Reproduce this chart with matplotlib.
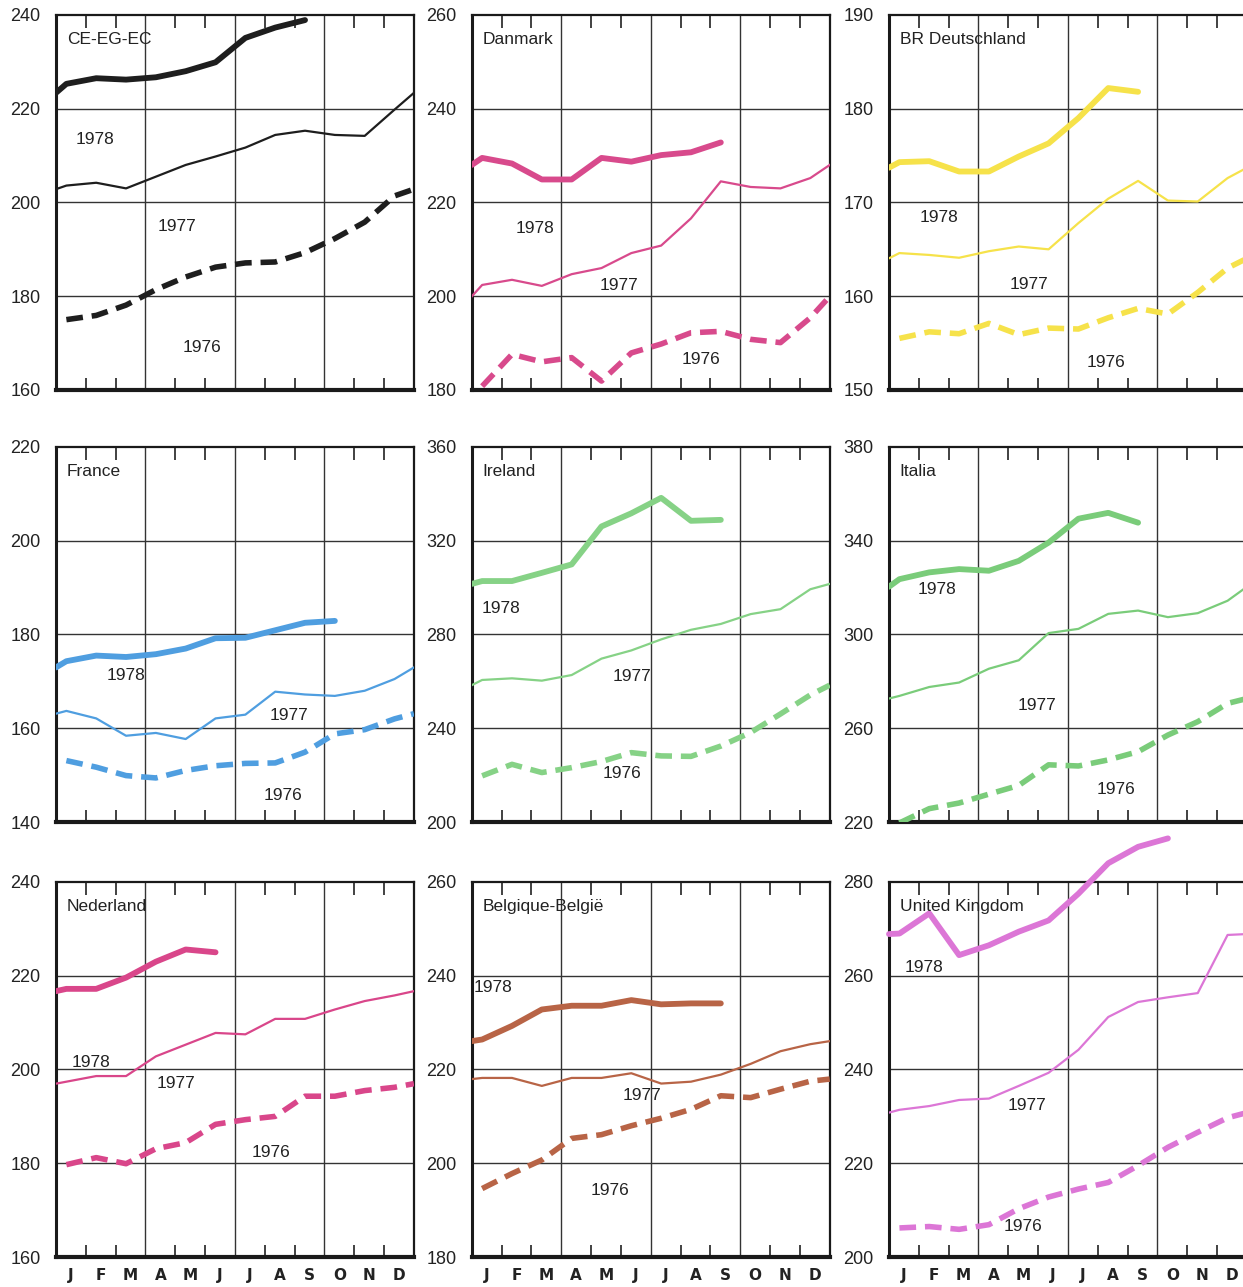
import numpy as np
import matplotlib.pyplot as plt

plt.rcParams['font.family'] = ['Liberation Sans', 'DejaVu Sans']

months = ['J', 'F', 'M', 'A', 'M', 'J', 'J', 'A', 'S', 'O', 'N', 'D']

# monthly index values (1976, 1977, 1978 so far)
ce_1976 = [175.0, 175.9, 178.1, 181.4, 184.1, 186.2, 187.1, 187.3, 189.3, 192.3, 195.8, 201.4]
ce_1977 = [203.6, 204.2, 203.0, 205.5, 208.0, 209.8, 211.7, 214.4, 215.3, 214.4, 214.2, 219.8]
ce_1978 = [225.3, 226.5, 226.2, 226.7, 228.0, 229.9, 235.1, 237.3, 238.9]

dk_1976 = [180.8, 187.6, 186.0, 186.9, 181.9, 187.9, 189.8, 192.2, 192.5, 190.8, 190.1, 195.4]
dk_1977 = [202.4, 203.5, 202.2, 204.7, 206.0, 209.2, 210.8, 216.6, 224.5, 223.3, 223.0, 225.2]
dk_1978 = [229.5, 228.3, 224.9, 224.9, 229.5, 228.7, 230.1, 230.7, 232.8]

de_1976 = [155.5, 156.2, 156.0, 157.1, 155.9, 156.6, 156.5, 157.7, 158.7, 158.1, 160.4, 163.0]
de_1977 = [164.6, 164.4, 164.1, 164.8, 165.3, 165.0, 167.8, 170.4, 172.3, 170.2, 170.1, 172.6]
de_1978 = [174.3, 174.4, 173.3, 173.3, 174.9, 176.3, 179.0, 182.2, 181.8]

fr_1976 = [153.1, 151.7, 149.9, 149.4, 151.0, 152.0, 152.5, 152.6, 154.9, 158.8, 159.7, 162.0]
fr_1977 = [163.7, 162.1, 158.4, 159.0, 157.7, 162.1, 162.9, 167.8, 167.2, 166.9, 168.0, 170.5]
fr_1978 = [174.3, 175.5, 175.2, 175.8, 177.0, 179.2, 179.3, 180.9, 182.5, 182.9]

ie_1976 = [219.7, 224.6, 221.1, 223.2, 225.8, 229.6, 228.2, 228.0, 232.4, 238.2, 246.1, 254.2]
ie_1977 = [260.6, 261.3, 260.3, 262.7, 269.7, 273.2, 277.9, 282.0, 284.5, 288.7, 290.8, 299.3]
ie_1978 = [302.8, 302.8, 306.3, 309.9, 326.1, 331.7, 338.3, 328.5, 328.9]

it_1976 = [219.6, 225.7, 228.1, 231.9, 235.6, 244.4, 243.9, 246.5, 250.0, 257.1, 262.8, 270.6]
it_1977 = [273.8, 277.6, 279.5, 285.4, 289.0, 300.6, 302.4, 308.8, 310.2, 307.4, 309.1, 314.4]
it_1978 = [323.6, 326.5, 327.9, 327.2, 331.4, 339.2, 349.4, 351.9, 347.7]

nl_1976 = [179.7, 181.2, 179.9, 183.1, 184.4, 188.3, 189.3, 190.0, 194.3, 194.3, 195.5, 196.2]
nl_1977 = [197.4, 198.6, 198.6, 202.8, 205.3, 207.8, 207.5, 210.8, 210.8, 212.8, 214.6, 215.8]
nl_1978 = [217.2, 217.2, 219.6, 223.0, 225.6, 225.0]

be_1976 = [194.6, 197.8, 200.7, 205.3, 206.1, 208.0, 209.6, 211.5, 214.4, 214.0, 215.8, 217.5]
be_1977 = [218.2, 218.2, 216.5, 218.2, 218.2, 219.2, 217.0, 217.4, 218.9, 221.2, 223.9, 225.4]
be_1978 = [226.4, 229.3, 232.8, 233.6, 233.6, 234.8, 233.9, 234.1, 234.1]

uk_1976 = [206.2, 206.5, 205.9, 206.9, 210.3, 212.8, 214.5, 215.9, 219.5, 223.4, 226.6, 229.7]
uk_1977 = [231.4, 232.2, 233.5, 233.8, 236.5, 239.3, 244.2, 251.2, 254.4, 255.4, 256.3, 268.7]
uk_1978 = [269.0, 273.3, 264.4, 266.5, 269.4, 271.8, 277.5, 284.0, 287.5, 289.3]

# name, series, (ymin, ymax, step), colour
panels = [
    ('CE-EG-EC', (ce_1976, ce_1977, ce_1978), (160, 240, 20), '#1e1e1e'),
    ('Danmark', (dk_1976, dk_1977, dk_1978), (180, 260, 20), '#d84a8c'),
    ('BR Deutschland', (de_1976, de_1977, de_1978), (150, 190, 10), '#f6e24a'),
    ('France', (fr_1976, fr_1977, fr_1978), (140, 220, 20), '#4f9ee0'),
    ('Ireland', (ie_1976, ie_1977, ie_1978), (200, 360, 40), '#86d286'),
    ('Italia', (it_1976, it_1977, it_1978), (220, 380, 40), '#7acc7a'),
    ('Nederland', (nl_1976, nl_1977, nl_1978), (160, 240, 20), '#d9468a'),
    ('Belgique-België', (be_1976, be_1977, be_1978), (180, 260, 20), '#b86446'),
    ('United Kingdom', (uk_1976, uk_1977, uk_1978), (200, 280, 20), '#dc76d6'),
]

# year-label positions (axes fraction) for 1978, 1977, 1976
label_pos = [
    [(0.109, 0.668), (0.338, 0.436), (0.408, 0.114)],
    [(0.176, 0.431), (0.411, 0.279), (0.640, 0.082)],
    [(0.140, 0.460), (0.391, 0.282), (0.606, 0.072)],
    [(0.196, 0.391), (0.651, 0.285), (0.634, 0.072)],
    [(0.081, 0.569), (0.447, 0.388), (0.419, 0.130)],
    [(0.134, 0.620), (0.413, 0.311), (0.634, 0.088)],
    [(0.098, 0.519), (0.335, 0.463), (0.601, 0.279)],
    [(0.059, 0.718), (0.475, 0.431), (0.385, 0.178)],
    [(0.098, 0.771), (0.385, 0.404), (0.374, 0.082)],
]

month_pos = np.arange(12) + 0.35


def year_line(prev, cur, nxt):
    # a year's curve runs on to the panel edges towards the neighbouring years
    x = list(month_pos[:len(cur)])
    y = list(cur)
    if prev is not None:
        x.insert(0, 0.0)
        y.insert(0, np.interp(0.0, [month_pos[0] - 1, month_pos[0]], [prev[-1], cur[0]]))
    if nxt is not None and len(cur) == 12:
        x.append(12.0)
        y.append(np.interp(12.0, [month_pos[-1], month_pos[-1] + 1], [cur[-1], nxt[0]]))
    return x, y


fig = plt.figure(figsize=(12.43, 12.87), dpi=100)
fig.patch.set_facecolor('white')

lefts = [0.0450, 0.3795, 0.7152]
bottoms = [0.6970, 0.3613, 0.0233]
w, h = 0.2880, 0.2914
ink = '#222222'

for k, (name, series, (y0, y1, step), col) in enumerate(panels):
    row, c = divmod(k, 3)
    ax = fig.add_axes([lefts[c], bottoms[row], w, h])
    ax.set_xlim(0, 12)
    ax.set_ylim(y0, y1)

    yt = np.arange(y0, y1 + step, step)
    ax.set_yticks(yt)
    ax.tick_params(axis='y', length=0, pad=11, labelsize=13, labelcolor=ink)
    for v in yt[1:-1]:
        ax.axhline(v, color='#333333', lw=1.0, zorder=1)
    for v in (3, 6, 9):
        ax.axvline(v, color='#333333', lw=1.0, zorder=1)

    ax.set_xticks([1, 2, 4, 5, 7, 8, 10, 11])
    ax.tick_params(axis='x', which='major', direction='in', top=True, bottom=True,
                   length=9, width=1.3, color='#333333', labelbottom=False)
    if row == 2:
        ax.set_xticks(np.arange(12) + 0.5, minor=True)
        ax.set_xticklabels(months, minor=True)
        ax.tick_params(axis='x', which='minor', length=0, pad=8, labelsize=11,
                       labelcolor=ink)
        for t in ax.get_xticklabels(minor=True):
            t.set_fontweight('bold')
            t.set_family('DejaVu Sans')

    for side, lw in (('left', 2.2), ('bottom', 3.0), ('top', 1.6), ('right', 1.6)):
        ax.spines[side].set_linewidth(lw)
        ax.spines[side].set_color('#1a1a1a')

    s76, s77, s78 = series
    x, y = year_line(None, s76, s77)
    ax.plot(x, y, color=col, lw=4, dashes=(3.0, 1.6), dash_capstyle='butt', zorder=3)
    x, y = year_line(s76, s77, s78)
    ax.plot(x, y, color=col, lw=1.6, solid_joinstyle='round', zorder=3)
    x, y = year_line(s77, s78, None)
    ax.plot(x, y, color=col, lw=4.2, solid_capstyle='round', solid_joinstyle='round',
            zorder=3, clip_on=(name != 'United Kingdom'))

    ax.text(0.03, 0.935, name, transform=ax.transAxes, fontsize=12.5, color=ink,
            ha='left', va='center')
    for (fx, fy), yr in zip(label_pos[k], ('1978', '1977', '1976')):
        ax.text(fx, fy, yr, transform=ax.transAxes, fontsize=12.5, color=ink,
                ha='center', va='center')

fig.savefig('out.png', dpi=100, facecolor='white')
